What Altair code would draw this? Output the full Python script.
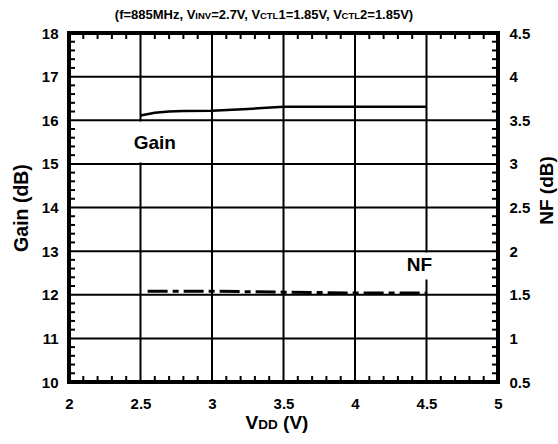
import altair as alt
import numpy as np
import pandas as pd

# Gain and noise figure versus supply voltage
vdd_gain = [2.5, 2.6, 2.7, 2.8, 3.0, 3.25, 3.5, 4.0, 4.5]
gain_db = [16.11, 16.17, 16.20, 16.21, 16.22, 16.26, 16.31, 16.31, 16.31]
vdd_nf = [2.55, 3.0, 3.5, 4.0, 4.5]
nf_db = [1.54, 1.54, 1.53, 1.52, 1.52]

x_ticks = [2, 2.5, 3, 3.5, 4, 4.5, 5]
gain_ticks = [10, 11, 12, 13, 14, 15, 16, 17, 18]
nf_ticks = [0.5, 1, 1.5, 2, 2.5, 3, 3.5, 4, 4.5]

FONT = "Liberation Sans"
W, H = 429, 349

# Advance widths (1/1000 em) of bold Arial-metric glyphs, for laying out mixed-size text
ADV = {"(": 333, ")": 333, "f": 333, "=": 584, "0": 556, "1": 556, "2": 556, "5": 556,
       "7": 556, "8": 556, "M": 833, "H": 722, "z": 500, ",": 278, " ": 278, "V": 667,
       "I": 278, "N": 722, "C": 722, "T": 611, "L": 611, ".": 278, "D": 722}


def text_width(s, size):
    return sum(ADV.get(c, 556) for c in s) * size / 1000.0


def rich_text(segments, cx, y):
    """Left-aligned runs of bold text of differing sizes, centred as a whole on cx."""
    total = sum(text_width(s, sz) + k for s, sz, k in segments)
    x = cx - total / 2.0
    layers = []
    for s, sz, k in segments:
        x += k
        shown = s.lstrip(" ")
        lead = text_width(s[: len(s) - len(shown)], sz)
        layers.append(
            alt.Chart(pd.DataFrame({"t": [shown]}))
            .mark_text(font=FONT, fontWeight="bold", fontSize=sz, align="left",
                       baseline="alphabetic", color="black")
            .encode(x=alt.value(x + lead), y=alt.value(y), text="t:N")
        )
        x += text_width(s, sz)
    return layers


x_scale = alt.Scale(domain=[2, 5], nice=False, zero=False)
g_scale = alt.Scale(domain=[10, 18], nice=False, zero=False)
n_scale = alt.Scale(domain=[0.5, 4.5], nice=False, zero=False)

x_axis = alt.Axis(values=x_ticks, format=".1~f", title=None, domain=False, ticks=False,
                  grid=False, labelFont=FONT, labelFontWeight="bold", labelFontSize=15,
                  labelColor="black", labelPadding=14, labelFlush=False)
g_axis = alt.Axis(values=gain_ticks, format="d", title="Gain (dB)", domain=False, ticks=False,
                  grid=False, labelFont=FONT, labelFontWeight="bold", labelFontSize=15,
                  labelColor="black", labelPadding=11, labelFlush=False,
                  titleFont=FONT, titleFontWeight="bold", titleFontSize=19.5,
                  titleColor="black", titlePadding=10)
n_axis = alt.Axis(values=nf_ticks, format=".1~f", title="NF (dB)", orient="right",
                  domain=False, ticks=False, grid=False, labelFont=FONT,
                  labelFontWeight="bold", labelFontSize=15, labelColor="black",
                  labelPadding=11, labelFlush=False, titleFont=FONT,
                  titleFontWeight="bold", titleFontSize=19, titleColor="black",
                  titleAngle=270, titleX=48, titleY=157, titleAlign="center",
                  titleBaseline="middle")


def X(field="x"):
    return alt.X(f"{field}:Q", scale=x_scale, axis=x_axis)


def Yg(field="y"):
    return alt.Y(f"{field}:Q", scale=g_scale, axis=g_axis)


# Grid lines
vgrid = (alt.Chart(pd.DataFrame({"x": x_ticks[1:-1]}))
         .mark_rule(color="black", strokeWidth=2)
         .encode(x=X(), y=alt.value(0), y2=alt.value(H)))
hgrid = (alt.Chart(pd.DataFrame({"y": gain_ticks[1:-1]}))
         .mark_rule(color="black", strokeWidth=2)
         .encode(y=Yg(), x=alt.value(0), x2=alt.value(W)))

# White boxes behind the curve labels
boxes = (alt.Chart(pd.DataFrame({"x": [2.42, 4.36], "x2": [2.78, 4.56],
                                 "y": [15.03, 12.35], "y2": [15.97, 12.97]}))
         .mark_rect(color="white")
         .encode(x=X(), x2="x2:Q", y=Yg(), y2="y2:Q"))

# Inward minor ticks on all four sides
minor_x = [float(round(v, 2)) for v in np.arange(2.1, 4.95, 0.1)
           if abs(v * 2 - round(v * 2)) > 1e-6]
minor_y = [float(round(v, 2)) for v in np.arange(10.2, 17.9, 0.2)
           if abs(v - round(v)) > 1e-6]
tick_len = 6
rule = dict(color="black", strokeWidth=2)
top_ticks = (alt.Chart(pd.DataFrame({"x": minor_x})).mark_rule(**rule)
             .encode(x=X(), y=alt.value(0), y2=alt.value(tick_len)))
bot_ticks = (alt.Chart(pd.DataFrame({"x": minor_x})).mark_rule(**rule)
             .encode(x=X(), y=alt.value(H - tick_len), y2=alt.value(H)))
left_ticks = (alt.Chart(pd.DataFrame({"y": minor_y})).mark_rule(**rule)
              .encode(y=Yg(), x=alt.value(0), x2=alt.value(tick_len)))
right_ticks = (alt.Chart(pd.DataFrame({"y": minor_y})).mark_rule(**rule)
               .encode(y=Yg(), x=alt.value(W - tick_len), x2=alt.value(W)))

gain_line = (alt.Chart(pd.DataFrame({"x": vdd_gain, "y": gain_db}))
             .mark_line(color="black", strokeWidth=2.5)
             .encode(x=X(), y=Yg()))

labels = (alt.Chart(pd.DataFrame({"x": [2.6, 4.45], "y": [15.48, 12.68], "t": ["Gain", "NF"]}))
          .mark_text(font=FONT, fontWeight="bold", fontSize=19, color="black")
          .encode(x=X(), y=Yg(), text="t:N"))

title_segs = [("(f=885MHz, V", 13, 0), ("INV", 9.5, 0), ("=2.7V, V", 13, 0),
              ("CTL", 9.5, -1.5), ("1=1.85V, V", 13, 0), ("CTL", 9.5, -1.5),
              ("2=1.85V)", 13, 0)]
xtitle_segs = [("V", 19, 0), ("DD", 13.5, 0), (" (V)", 19, 0)]

gain_group = alt.layer(
    vgrid, boxes, hgrid, top_ticks, bot_ticks, left_ticks, right_ticks, gain_line, labels,
    *rich_text(title_segs, 195, -14),
    *rich_text(xtitle_segs, 208, 396),
)

nf_line = (alt.Chart(pd.DataFrame({"x": vdd_nf, "y": nf_db}))
           .mark_line(color="black", strokeWidth=3, strokeDash=[20, 5, 6, 5])
           .encode(x=X(), y=alt.Y("y:Q", scale=n_scale, axis=n_axis)))

chart = (
    alt.layer(gain_group, nf_line)
    .resolve_scale(y="independent")
    .properties(width=W, height=H, background="white",
                autosize=alt.AutoSizeParams(type="none"),
                padding={"left": 69, "top": 33, "right": 60, "bottom": 62})
    .configure_view(stroke="black", strokeWidth=4)
)

chart.save("out.html", embed_options={"renderer": "svg", "actions": False})
